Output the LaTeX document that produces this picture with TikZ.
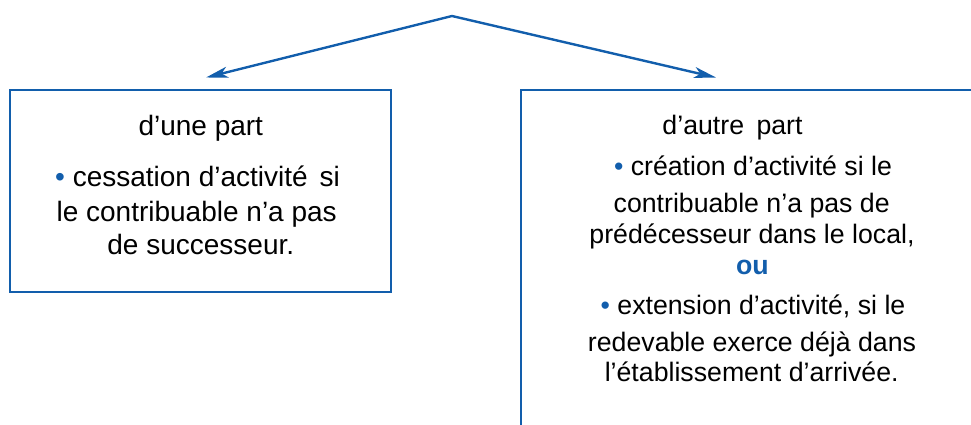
\documentclass[tikz,border=0pt]{standalone}
\usepackage{fontspec}
\setmainfont{Liberation Sans}
\usetikzlibrary{arrows.meta}
\definecolor{fiscblue}{RGB}{18,94,172}
\tikzset{
  boxline/.style={draw=fiscblue, line width=2.8pt},
  arrowline/.style={draw=fiscblue, line width=2.4pt, line join=miter, {Stealth[length=22pt,width=11pt,inset=6pt]}-{Stealth[length=22pt,width=11pt,inset=6pt]}},
  ltext/.style={anchor=base, inner sep=0pt, font=\fontsize{28}{32}\selectfont, text=black},
  rtext/.style={anchor=base, inner sep=0pt, font=\fontsize{26.7}{32}\selectfont, text=black},
  outext/.style={anchor=base, inner sep=0pt, font=\fontsize{26.7}{32}\selectfont\bfseries, text=fiscblue},
}
\newcommand{\bul}{{\color{fiscblue}•}}
\begin{document}
\begin{tikzpicture}[x=1pt,y=-1pt]
\useasboundingbox (0,0) rectangle (971,424);
% arrows
\coordinate (peak) at (452,16);
\coordinate (ltip) at (206,77.5);
\coordinate (rtip) at (716,77.5);
\draw[arrowline] (ltip) -- (peak) -- (rtip);
% left box
\node[boxline, line width=2.3pt, minimum width=381pt, minimum height=202pt, inner sep=0pt] (lbox) at (200.5,191) {};
% right box (open)
\coordinate (rtr) at (975,90);
\coordinate (rtl) at (521,90);
\coordinate (rbl) at (521,428);
\draw[boxline] (rtr) -- (rtl) -- (rbl);
% left texts
\node[ltext] (l1) at (200.8,135) {d’une part};
\node[ltext] (l2) at (197.5,186) {\bul\ cessation d’activité\hspace{4pt} si};
\node[ltext] (l3) at (196.7,221.7) {le contribuable n’a pas};
\node[ltext] (l4) at (200.8,254) {de successeur.};
% right texts
\node[rtext] (r1) at (732.5,134.3) {d’autre\hspace{5pt} part};
\node[rtext] (r2) at (753,175.7) {\bul\ création d’activité si le};
\node[rtext] (r3) at (751.7,212.3) {contribuable n’a pas de};
\node[rtext] (r4) at (752,243.3) {prédécesseur dans le local,};
\node[outext] (r5) at (752.3,274.3) {ou};
\node[rtext] (r6) at (753,314.3) {\bul\ extension d’activité, si le};
\node[rtext] (r7) at (752,351.7) {redevable exerce déjà dans};
\node[rtext] (r8) at (751.7,381.7) {l’établissement d’arrivée.};
\end{tikzpicture}
\end{document}
